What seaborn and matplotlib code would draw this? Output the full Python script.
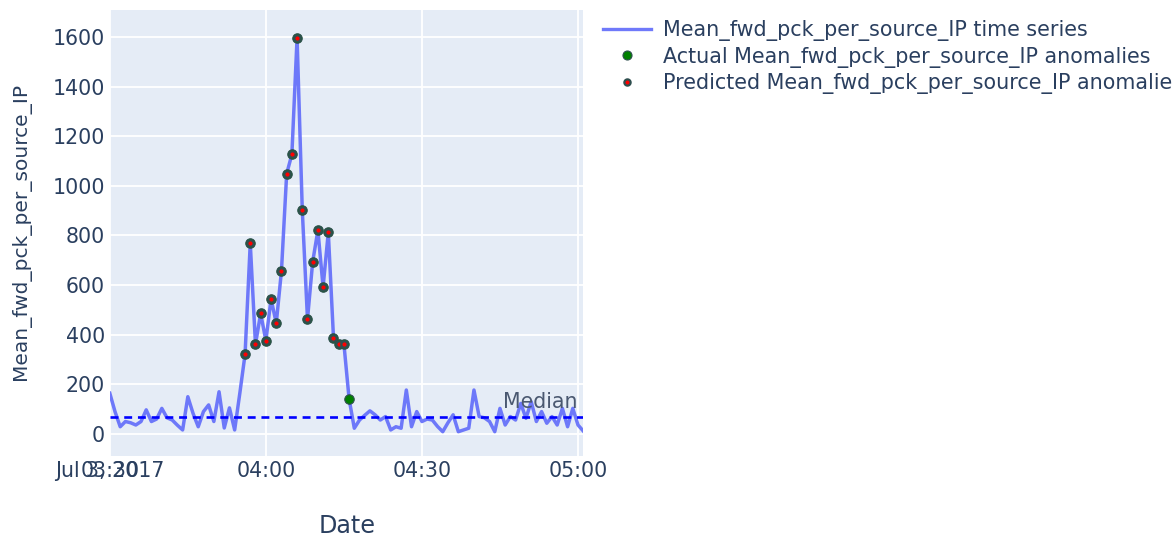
import matplotlib
matplotlib.use("Agg")
import matplotlib.pyplot as plt
import matplotlib.transforms as mtransforms
from matplotlib.lines import Line2D
import numpy as np
import pandas as pd
import seaborn as sns

# One reading per minute starting at 03:30
START = "2017-07-03 03:30"
values = [
    164, 90, 29, 50, 45, 36, 50, 97, 50, 60,
    103, 65, 56, 35, 16, 150, 83, 29, 90, 117,
    50, 170, 24, 105, 16, 165,
    321, 769, 361, 486, 376, 544, 446, 658, 1049, 1127,
    1597, 902, 462, 694, 821, 592, 813, 387, 363, 363,
    141,
    23, 56, 75, 93, 77, 56, 70, 16, 29, 23,
    177, 29, 90, 50, 60, 56, 30, 9, 45, 77,
    9, 16, 23, 177, 70, 65, 50, 9, 103, 36,
    70, 56, 123, 63, 130, 50, 90, 43, 70, 36,
    103, 29, 103, 36, 12,
]
actual_anomaly_times = [
    "03:56", "03:57", "03:58", "03:59", "04:00", "04:01", "04:02",
    "04:03", "04:04", "04:05", "04:06", "04:07", "04:08", "04:09",
    "04:10", "04:11", "04:12", "04:13", "04:14", "04:15", "04:16",
]
predicted_anomaly_times = [
    "03:56", "03:57", "03:58", "03:59", "04:00", "04:01", "04:02",
    "04:03", "04:04", "04:05", "04:06", "04:07", "04:08", "04:09",
    "04:10", "04:11", "04:12", "04:13", "04:14", "04:15",
]
x_tick_times = ["03:30", "04:00", "04:30", "05:00"]
y_ticks = [0, 200, 400, 600, 800, 1000, 1200, 1400, 1600]

METRIC = "Mean_fwd_pck_per_source_IP"
TEXT = "#2a3f5f"
BG = "#E5ECF6"
LINE = "#636EFA"

df = pd.DataFrame({
    "Date": pd.date_range(START, periods=len(values), freq="min"),
    "value": values,
})
hhmm = df["Date"].dt.strftime("%H:%M")
actual = df[hhmm.isin(actual_anomaly_times)]
predicted = df[hhmm.isin(predicted_anomaly_times)]
median = float(np.median(df["value"]))

plt.rcParams["font.family"] = ["DejaVu Sans"]

W, H = 1172, 540
fig = plt.figure(figsize=(W / 100, H / 100), dpi=100)
fig.patch.set_facecolor("white")
ax = fig.add_axes([109.8 / W, 84 / H, 473.4 / W, 446 / H])
ax.set_facecolor(BG)

sns.lineplot(data=df, x="Date", y="value", ax=ax, color=LINE,
             linewidth=2.5, alpha=0.92, zorder=2, legend=False)
ax.axhline(median, color="blue", linewidth=1.9, dashes=(3.0, 2.2), zorder=3)
sns.scatterplot(data=actual, x="Date", y="value", ax=ax, s=6.8 ** 2,
                color="green", edgecolor="#2F4F4F", linewidth=0.8,
                zorder=5, legend=False)
sns.scatterplot(data=predicted, x="Date", y="value", ax=ax, s=4.6 ** 2,
                color="red", edgecolor="#2F4F4F", linewidth=1.6,
                zorder=6, legend=False)

# median annotation at the right end of the line
trans = mtransforms.blended_transform_factory(ax.transAxes, ax.transData)
ax.annotate("Median", xy=(0.988, median), xycoords=trans, xytext=(0, 6.3),
            textcoords="offset points", ha="right", va="baseline",
            fontsize=14.8, color="#4a5870", zorder=7)

ax.set_xlim(df["Date"].min(), df["Date"].max())
ax.set_ylim(-89, 1709)
tick_pos = pd.to_datetime([f"2017-07-03 {t}" for t in x_tick_times])
ax.set_xticks(tick_pos)
ax.set_xticklabels(x_tick_times)
ax.set_yticks(y_ticks)
ax.set_yticklabels([str(v) for v in y_ticks])
ax.tick_params(axis="both", length=0, labelsize=14.8, labelcolor=TEXT, pad=3.6)
ax.annotate("Jul 3, 2017", xy=(tick_pos[0], 0),
            xycoords=("data", "axes fraction"), xytext=(0, -3.6),
            textcoords="offset points", ha="center", va="top",
            fontsize=14.8, color=TEXT, annotation_clip=False)
ax.set_xlabel("")
ax.set_ylabel("")
ax.grid(True, color="white", linewidth=1.3)
ax.set_axisbelow(True)
for s in ax.spines.values():
    s.set_visible(False)

fig.text(21 / W, 1 - 231 / H, METRIC, rotation=90, ha="center", va="center",
         fontsize=14.5, color=TEXT)
fig.text(347 / W, 1 - 526 / H, "Date", ha="center", va="center",
         fontsize=17.2, color=TEXT)

handles = [
    Line2D([], [], color=LINE, linewidth=2.4, alpha=0.92),
    Line2D([], [], linestyle="none", marker="o", markersize=6.5,
           markerfacecolor="green", markeredgecolor="#2F4F4F",
           markeredgewidth=0.8),
    Line2D([], [], linestyle="none", marker="o", markersize=4.5,
           markerfacecolor="red", markeredgecolor="#2F4F4F",
           markeredgewidth=1.6),
]
labels = [
    f"{METRIC} time series",
    f"Actual {METRIC} anomalies",
    f"Predicted {METRIC} anomalies",
]
fig.legend(handles, labels, loc="upper left",
           bbox_to_anchor=(603 / W, 1 - 20 / H), frameon=False,
           fontsize=14.9, labelcolor=TEXT, handlelength=2.3,
           handletextpad=0.58, labelspacing=0.27, borderpad=0,
           borderaxespad=0)

fig.savefig("out.png", dpi=100)
